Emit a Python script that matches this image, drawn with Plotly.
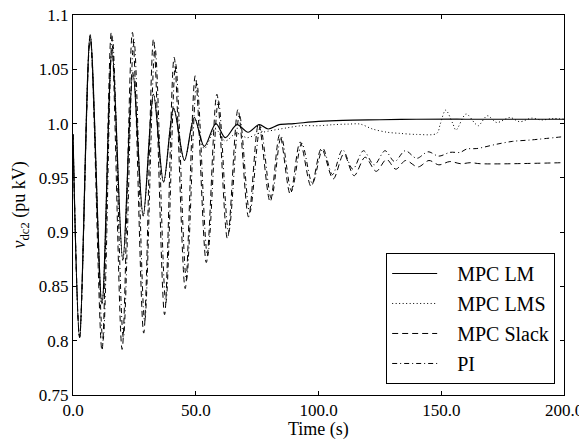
import plotly.graph_objects as go

# ---- data (extrema of each trace) ----
t_lm = [0, 2.7, 7.0, 11.8, 15.9, 20.3, 24.4, 28.6, 32.8, 36.9, 41.0, 45.4, 49.4, 53.5, 58.2,
        62.0, 66.8, 71.3, 75.8, 79.5, 84.0, 90, 100, 110, 125, 140, 160, 200]
v_lm = [0.99, 0.803, 1.082, 0.834, 1.0676, 0.874, 1.047, 0.915, 1.027, 0.946, 1.014, 0.966,
        1.0056, 0.979, 1.000, 0.987, 0.999, 0.992, 0.999, 0.995, 0.999, 1.000, 1.002, 1.003,
        1.0035, 1.004, 1.004, 1.004]

t_lms = [0, 2.7, 7.0, 11.8, 15.9, 20.3, 24.4, 28.6, 32.8, 36.9, 41.0, 45.4, 49.4, 53.5, 58.0,
         62.0, 66.5, 71.0, 75.5, 79.5, 87, 93, 100, 106, 112, 117, 122, 128, 133, 140, 148.2,
         149.6, 151.8, 154.7, 156.0, 160.1, 163.8, 165.1, 168.8, 172.6, 178.0, 182.0, 186.8,
         190.9, 195.6, 200]
v_lms = [0.99, 0.803, 1.082, 0.834, 1.0676, 0.874, 1.047, 0.915, 1.027, 0.946, 1.014, 0.966,
         1.0056, 0.977, 0.995, 0.984, 0.991, 0.987, 0.991, 0.993, 0.996, 0.998, 0.998, 0.999,
         0.9995, 0.9995, 0.995, 0.992, 0.991, 0.990, 0.991, 0.9996, 1.0124, 1.000, 0.994,
         1.0088, 1.000, 0.998, 1.0072, 1.001, 1.0056, 1.0017, 1.005, 1.0033, 1.0047, 1.004]

t_slack = [0, 2.7, 7.0, 11.8, 15.6, 20.0, 24.2, 28.8, 32.8, 37.3, 41.2, 45.7, 49.8, 54.3, 58.6,
           62.9, 67.2, 71.5, 75.6, 80.3, 84.2, 88.5, 92.5, 97.0, 101.2, 106.0, 110.3, 114.5,
           119.0, 123.5, 127.7, 131.5, 135.5, 140.5, 145.0, 149.0, 153.5, 158.0, 162.0, 166.0, 200]
v_slack = [0.99, 0.803, 1.080, 0.791, 1.084, 0.792, 1.084, 0.807, 1.078, 0.824, 1.061, 0.848,
           1.044, 0.872, 1.027, 0.894, 1.013, 0.914, 1.000, 0.928, 0.990, 0.935, 0.983, 0.942,
           0.977, 0.949, 0.972, 0.952, 0.969, 0.956, 0.967, 0.958, 0.966, 0.960, 0.966, 0.962,
           0.965, 0.963, 0.964, 0.963, 0.964]

t_pi = [0, 2.7, 7.0, 12.2, 16.0, 20.5, 24.8, 29.2, 33.4, 37.8, 41.8, 46.2, 50.4, 54.8, 59.2,
        63.4, 67.8, 72.0, 76.3, 80.8, 84.8, 89.0, 93.2, 97.5, 101.8, 105.7, 109.8, 114.0,
        118.3, 122.7, 127.1, 131.0, 135.3, 140.0, 144.6, 149.0, 153.6, 157.7, 160.4, 164.5,
        172.6, 179.0, 187.0, 200]
v_pi = [0.99, 0.803, 1.078, 0.800, 1.080, 0.803, 1.078, 0.818, 1.070, 0.835, 1.055, 0.856,
        1.038, 0.878, 1.021, 0.900, 1.008, 0.918, 0.997, 0.931, 0.988, 0.938, 0.982, 0.945,
        0.977, 0.953, 0.976, 0.958, 0.975, 0.962, 0.975, 0.965, 0.975, 0.968, 0.974, 0.970,
        0.9735, 0.9735, 0.9766, 0.977, 0.981, 0.9836, 0.985, 0.988]

series_names = ["MPC LM", "MPC LMS", "MPC Slack", "PI"]
x_ticks = [0, 50, 100, 150, 200]
x_ticktext = ["0.0", "50.0", "100.0", "150.0", "200.0"]
y_ticks = [0.75, 0.8, 0.85, 0.9, 0.95, 1.0, 1.05, 1.1]
y_ticktext = ["0.75", "0.8", "0.85", "0.9", "0.95", "1.0", "1.05", "1.1"]

FONT = "'Liberation Serif', 'Times New Roman', serif"
FS_TICK = 17
FS_LEG = 20
FS_TITLE = 18
PAD = "\u00a0\u00a0\u00a0"

fig = go.Figure()
styles = [
    (t_lm, v_lm, "solid", 1.2),
    (t_lms, v_lms, "1px,2.5px", 1.0),
    (t_slack, v_slack, "6px,4px", 1.0),
    (t_pi, v_pi, "5px,3px,1px,3px", 1.0),
]
for i, (name, (tx, vy, dash, w)) in enumerate(zip(series_names, styles)):
    fig.add_trace(go.Scatter(
        x=tx, y=vy, mode="lines", name=PAD + name, legendgroup=f"g{i}",
        line=dict(color="black", width=w, dash=dash, shape="spline", smoothing=0.9),
    ))

axis_common = dict(
    showline=True, linecolor="black", linewidth=1, mirror="ticks",
    ticks="inside", ticklen=4, tickwidth=1, tickcolor="black",
    showgrid=False, zeroline=False, automargin=False, ticklabeloverflow="allow",
    tickfont=dict(family=FONT, size=FS_TICK, color="black"),
)

fig.update_layout(
    width=587, height=442,
    margin=dict(l=65, r=31, t=7, b=55),
    paper_bgcolor="white", plot_bgcolor="white",
    font=dict(family=FONT, size=FS_TICK, color="black"),
    xaxis=dict(range=[0, 200], tickvals=x_ticks, ticktext=x_ticktext, **axis_common),
    yaxis=dict(range=[0.75, 1.1], tickvals=y_ticks, ticktext=y_ticktext, **axis_common),
    legend=dict(x=0.982, y=0.029, xanchor="right", yanchor="bottom",
                bordercolor="black", borderwidth=1, bgcolor="white",
                font=dict(family=FONT, size=FS_LEG), tracegroupgap=1,
                traceorder="grouped", itemwidth=45),
    showlegend=True,
    annotations=[
        dict(text="Time (s)", xref="paper", yref="paper", x=0.5, y=-0.092,
             xanchor="center", yanchor="middle", showarrow=False,
             font=dict(family=FONT, size=FS_TITLE)),
        dict(text="<i>v</i><sub>dc2</sub> (pu kV)", xref="paper", yref="paper",
             x=-0.107, y=0.5, xanchor="center", yanchor="middle", textangle=-90,
             showarrow=False, font=dict(family=FONT, size=FS_TITLE)),
    ],
)

fig.write_html("out.html")
